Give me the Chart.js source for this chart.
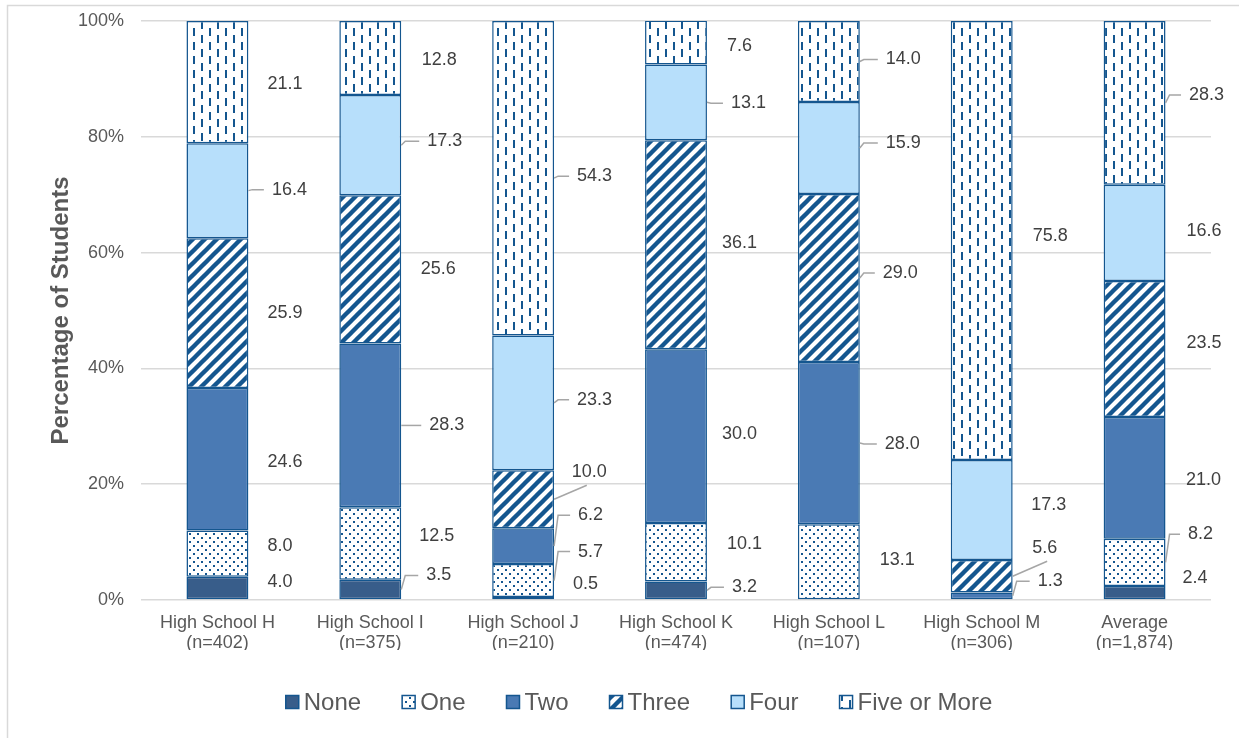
<!DOCTYPE html>
<html><head><meta charset="utf-8">
<script src="https://cdn.jsdelivr.net/npm/chart.js@4.4.0/dist/chart.umd.min.js"></script>
<style>html,body{margin:0;padding:0;background:#fff;overflow:hidden}#wrap{width:1239px;height:738px;position:relative}</style>
</head><body><div id="wrap"><canvas id="c"></canvas></div>
<script>
// ---- data ----
const categories = [["High School H","(n=402)"],["High School I","(n=375)"],["High School J","(n=210)"],["High School K","(n=474)"],["High School L","(n=107)"],["High School M","(n=306)"],["Average","(n=1,874)"]];
const seriesNames = ["None","One","Two","Three","Four","Five or More"];
const none       = [4.0, 3.5, 0.5, 3.2, 0,    0,    2.4];
const one        = [8.0, 12.5, 5.7, 10.1, 13.1, 0,   8.2];
const two        = [24.6, 28.3, 6.2, 30.0, 28.0, 1.3, 21.0];
const three      = [25.9, 25.6, 10.0, 36.1, 29.0, 5.6, 23.5];
const four       = [16.4, 17.3, 23.3, 13.1, 15.9, 17.3, 16.6];
const fiveOrMore = [21.1, 12.8, 54.3, 7.6, 14.0, 75.8, 28.3];
const yTicks = [0, 20, 40, 60, 80, 100];

// ---- styling ----
const INK = '#14568f';
const FONT = '"Liberation Sans", Arial, sans-serif';
function tile(w, h, draw) {
  const c = document.createElement('canvas'); c.width = w; c.height = h;
  const g = c.getContext('2d'); g.fillStyle = '#fff'; g.fillRect(0, 0, w, h);
  g.fillStyle = INK; g.strokeStyle = INK; draw(g, w, h);
  return document.getElementById('c').getContext('2d').createPattern(c, 'repeat');
}
const dotPattern = tile(8, 8, g => { g.fillRect(1, 1, 2, 2); g.fillRect(5, 5, 2, 2); });
const stripePattern = tile(12, 12, g => {
  g.lineWidth = 4.4;
  [-12, 0, 12].forEach(o => { g.beginPath(); g.moveTo(o - 2, 14); g.lineTo(o + 14, -2); g.stroke(); });
});
const dashPattern = tile(16, 14, g => { g.fillRect(1, 0, 2, 8); g.fillRect(9, 7, 2, 7); g.fillRect(9, 0, 2, 1); });

const fills = ['#385d8a', dotPattern, '#4a7ab4', stripePattern, '#b7dffb', dashPattern];
const series = [none, one, two, three, four, fiveOrMore];

// label placement tweaks [dx from bar edge, dy from segment middle, leader: 0 none, 1 elbow, 2 diagonal]
const labelLayout = [
  [[19,-6,0],[25,-14,1],[19,-14,0],[25,-3,1],null,null,[17,-15,0]],
  [[19,-8,0],[18,-8,0],[24,-29,1],[20,-8,0],[20,-2,0],null,[22.5,-28,1]],
  [[19,3,0],[28,0,1],[24,-31,1],[15,-2,0],[25,1,1],[25,-14.5,1],[20.5,2,0]],
  [[19,0,0],[19.5,0,0],[17.7,-27,2],[15,-2,0],[23,-5,1],[19.5,-28,2],[21,-6,0]],
  [[23.5,-1,1],[26,-4,1],[23,-3,1],[24,1,1],[26,-5,1],[18.5,-5,0],[21,-1.4,0]],
  [[19,2,0],[20.5,2,0],[23,-2,1],[20,4,0],[26,-2,1],[20,-4.6,0],[23.5,-8,1]]
];

const frame = {
  id: 'frame',
  beforeDraw(chart) {
    const ctx = chart.ctx; ctx.save();
    ctx.fillStyle = '#fff'; ctx.fillRect(0, 0, chart.width, chart.height);
    ctx.strokeStyle = '#d9d9d9'; ctx.lineWidth = 1.5;
    ctx.strokeRect(7.5, 5.5, chart.width + 20, chart.height + 20);
    ctx.restore();
  }
};

const valueLabels = {
  id: 'valueLabels',
  afterDatasetsDraw(chart) {
    const ctx = chart.ctx; ctx.save();
    ctx.font = '18px ' + FONT; ctx.textBaseline = 'middle'; ctx.textAlign = 'left';
    chart.data.datasets.forEach((ds, di) => {
      const meta = chart.getDatasetMeta(di);
      meta.data.forEach((bar, i) => {
        const v = ds.data[i];
        const lay = labelLayout[di][i];
        if (!v || !lay) return;
        const p = bar.getProps(['x', 'y', 'base', 'width'], true);
        const bx = p.x + p.width / 2;
        const mid = (p.y + p.base) / 2;
        const tx = bx + lay[0], ty = mid + lay[1];
        if (lay[2]) {
          ctx.strokeStyle = '#a6a6a6'; ctx.lineWidth = 1.5; ctx.beginPath();
          ctx.moveTo(bx, mid);
          if (lay[2] === 1) { ctx.lineTo(bx + 4, ty); ctx.lineTo(tx - 8, ty); }
          else { ctx.lineTo(tx + 15, ty + 13); }
          ctx.stroke();
        }
        ctx.fillStyle = '#404040';
        ctx.fillText(v.toFixed(1), tx, ty);
      });
    });
    ctx.restore();
  }
};

const legendDraw = {
  id: 'legendDraw',
  afterDraw(chart) {
    const ctx = chart.ctx; ctx.save();
    ctx.font = '24px ' + FONT; ctx.textBaseline = 'middle'; ctx.textAlign = 'left';
    const box = 13, gapBox = 5, gap = 41, cy = 702;
    const ws = seriesNames.map(n => ctx.measureText(n).width);
    const total = ws.reduce((a, w) => a + box + gapBox + w, 0) + gap * (ws.length - 1);
    let x = 639 - total / 2;
    chart.data.datasets.forEach((ds, i) => {
      ctx.fillStyle = ds.backgroundColor; ctx.fillRect(x, cy - box / 2, box, box);
      ctx.strokeStyle = INK; ctx.lineWidth = 1.5; ctx.strokeRect(x, cy - box / 2, box, box);
      ctx.fillStyle = '#595959'; ctx.fillText(seriesNames[i], x + box + gapBox, cy + 1);
      x += box + gapBox + ws[i] + gap;
    });
    ctx.restore();
  }
};

Chart.defaults.font.family = FONT;
new Chart(document.getElementById('c'), {
  type: 'bar',
  data: {
    labels: categories,
    datasets: series.map((s, i) => ({
      label: seriesNames[i], data: s, backgroundColor: fills[i],
      borderColor: INK, borderWidth: 1.5, borderSkipped: false,
      barPercentage: 0.405, categoryPercentage: 1
    }))
  },
  options: {
    responsive: true, maintainAspectRatio: false, animation: false,
    layout: { padding: { left: 0, right: 28, top: 21, bottom: 88 } },
    plugins: { legend: { display: false }, tooltip: { enabled: false } },
    scales: {
      x: {
        stacked: true,
        grid: { display: false, drawTicks: false },
        border: { display: false },
        ticks: { font: { size: 18, lineHeight: 1.12 }, color: '#595959', padding: 13, maxRotation: 0 },
        afterFit(s) { s.height = 50; }
      },
      y: {
        stacked: true, min: 0, max: 100,
        afterBuildTicks(s) { s.ticks = yTicks.map(v => ({ value: v })); },
        grid: { color: '#d9d9d9', lineWidth: 1.5, drawTicks: false },
        border: { display: false },
        ticks: { font: { size: 18 }, color: '#595959', padding: 17, callback: v => v + '%' },
        title: { display: true, text: 'Percentage of Students', color: '#595959',
                 font: { size: 24, weight: 'bold' }, padding: { top: 47, bottom: 0 } },
        afterFit(s) { s.width = 141; s.paddingTop = 0; s.paddingBottom = 0; }
      }
    }
  },
  plugins: [frame, valueLabels, legendDraw]
});
</script></body></html>
